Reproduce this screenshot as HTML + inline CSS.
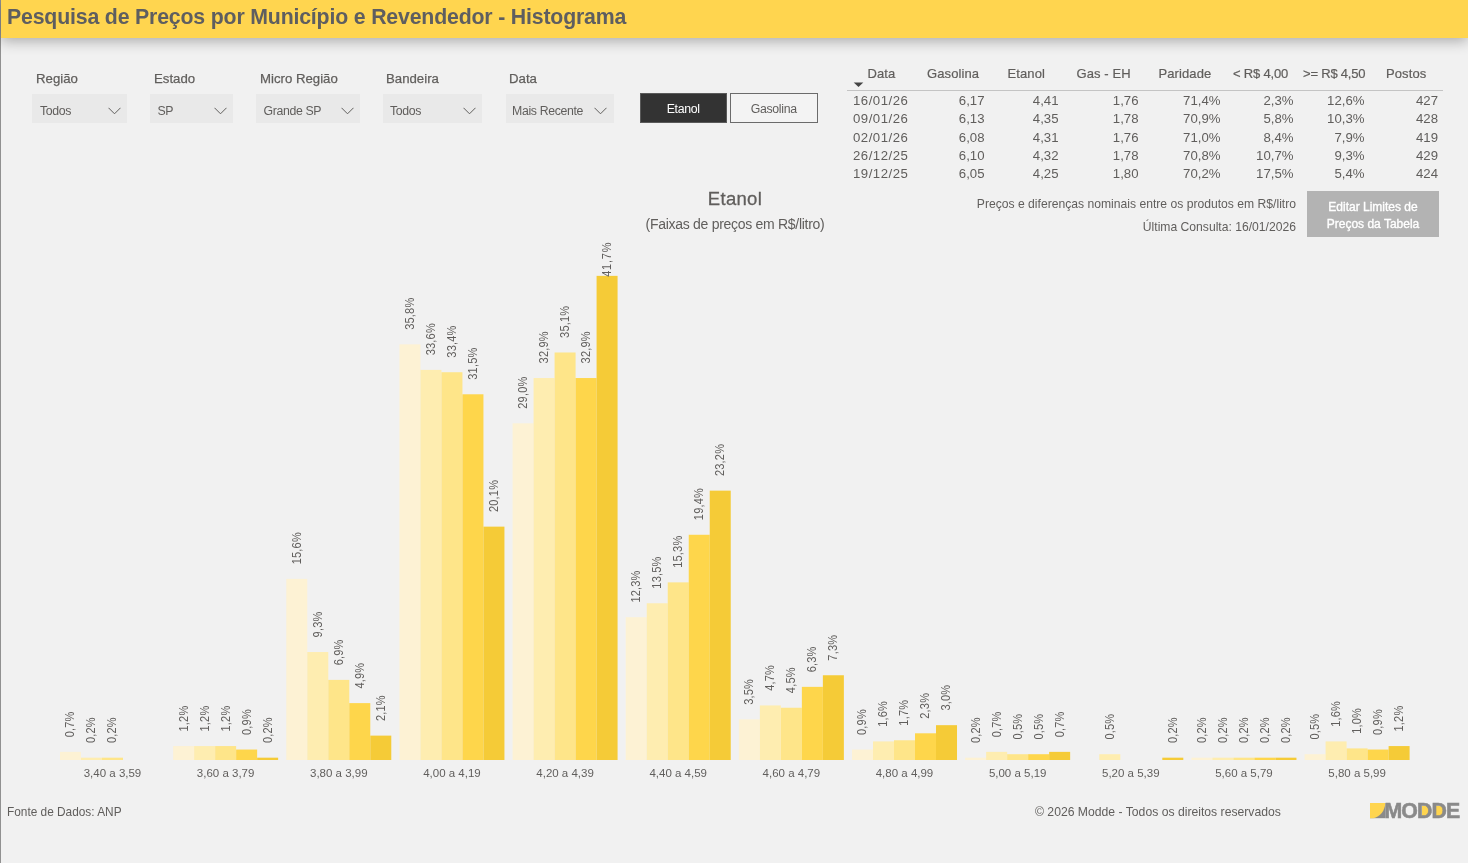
<!DOCTYPE html>
<html lang="pt-BR"><head><meta charset="utf-8"><title>Pesquisa de Preços por Município e Revendedor - Histograma</title>
<style>
html,body{margin:0;padding:0;}
body{width:1468px;height:863px;position:relative;overflow:hidden;background:#F1F1F1;font-family:"Liberation Sans",sans-serif;color:#605E5C;}
.abs{position:absolute;}
#edge{position:absolute;left:0;top:0;width:1px;height:863px;background:#919191;}
#hdr{position:absolute;left:1px;top:0;width:1467px;height:37.5px;background:#FFD54F;box-shadow:0 3px 14px rgba(0,0,0,.30);}
#hdr span{position:absolute;left:6px;top:5px;font-weight:bold;font-size:21.3px;color:#5E5E60;white-space:nowrap;letter-spacing:-0.18px;}
.lbl{position:absolute;top:71.1px;font-size:13.7px;color:#605E5C;white-space:nowrap;transform-origin:left top;transform:scaleX(.965);-webkit-text-stroke:.25px #605E5C;}
.dd{position:absolute;top:94.25px;height:29px;background:#E9E9E9;}
.dd span{position:absolute;left:7.5px;top:10px;font-size:12.3px;letter-spacing:-.35px;color:#605E5C;white-space:nowrap;}
.dd svg{position:absolute;right:6.5px;top:13px;}
.btn{position:absolute;top:93px;height:29.5px;box-sizing:border-box;font-size:12.3px;letter-spacing:-.3px;text-align:center;line-height:30.5px;}
#b1{left:639.5px;width:87.5px;background:#333333;color:#fff;border:1px solid #5a5a5a;}
#b2{left:729.5px;width:88.5px;background:#F3F3F3;color:#605E5C;border:1.5px solid #6b6b6b;}
.th{position:absolute;top:66px;font-size:13px;color:#605E5C;white-space:nowrap;letter-spacing:.1px;-webkit-text-stroke:.2px #605E5C;}
.td{position:absolute;font-size:13.2px;color:#605E5C;white-space:nowrap;line-height:18px;}
.td.r{text-align:right;}
#hline{position:absolute;left:847px;top:90px;width:596px;height:1px;background:#c4c4c4;}
.chart{position:absolute;left:0;top:0;}
.dl{font-size:11px;fill:#605E5C;font-family:"Liberation Sans",sans-serif;letter-spacing:.2px;}
.ax{font-size:11.5px;fill:#605E5C;font-family:"Liberation Sans",sans-serif;}
.note{position:absolute;font-size:12.15px;color:#605E5C;white-space:nowrap;text-align:right;}
#edit{position:absolute;left:1307px;top:191px;width:132px;height:46px;background:#B3B3B3;color:#fff;font-size:12px;-webkit-text-stroke:.35px #fff;text-align:center;line-height:17px;padding-top:8px;box-sizing:border-box;}
#t1{position:absolute;left:535px;width:400px;text-align:center;top:188px;font-size:18.5px;color:#605E5C;letter-spacing:.3px;-webkit-text-stroke:.3px #605E5C;}
#t2{position:absolute;left:535px;width:400px;text-align:center;top:215.5px;font-size:14px;letter-spacing:-.29px;color:#605E5C;}
.ft{position:absolute;top:805px;font-size:11.85px;color:#605E5C;white-space:nowrap;}
#logo{position:absolute;left:1370px;top:803px;width:92px;height:16px;}
.dc{position:absolute;top:2.8px;width:8.5px;height:10.2px;background:#FFD54F;border-radius:0 5px 5px 0;}
#lt{position:absolute;left:14.4px;top:-4.4px;font-weight:bold;font-size:21.3px;line-height:24px;letter-spacing:-.85px;color:#8A8A8A;-webkit-text-stroke:.55px #8A8A8A;white-space:nowrap;}
</style></head><body>
<div id="edge"></div>
<div id="hdr"><span>Pesquisa de Preços por Município e Revendedor - Histograma</span></div>

<div class="lbl" style="left:36px">Região</div>
<div class="lbl" style="left:154px">Estado</div>
<div class="lbl" style="left:260px">Micro Região</div>
<div class="lbl" style="left:386px">Bandeira</div>
<div class="lbl" style="left:509px">Data</div>

<div class="dd" style="left:32px;width:95px"><span style="left:8px">Todos</span><svg width="13" height="8" viewBox="0 0 13 8"><path d="M0.5 0.8 L6.5 6.8 L12.5 0.8" fill="none" stroke="#605E5C" stroke-width="1"/></svg></div>
<div class="dd" style="left:150px;width:83px"><span>SP</span><svg width="13" height="8" viewBox="0 0 13 8"><path d="M0.5 0.8 L6.5 6.8 L12.5 0.8" fill="none" stroke="#605E5C" stroke-width="1"/></svg></div>
<div class="dd" style="left:256px;width:104px"><span>Grande SP</span><svg width="13" height="8" viewBox="0 0 13 8"><path d="M0.5 0.8 L6.5 6.8 L12.5 0.8" fill="none" stroke="#605E5C" stroke-width="1"/></svg></div>
<div class="dd" style="left:382.5px;width:99.5px"><span>Todos</span><svg width="13" height="8" viewBox="0 0 13 8"><path d="M0.5 0.8 L6.5 6.8 L12.5 0.8" fill="none" stroke="#605E5C" stroke-width="1"/></svg></div>
<div class="dd" style="left:505.5px;width:108px"><span style="left:6.5px">Mais Recente</span><svg width="13" height="8" viewBox="0 0 13 8"><path d="M0.5 0.8 L6.5 6.8 L12.5 0.8" fill="none" stroke="#605E5C" stroke-width="1"/></svg></div>

<div class="btn" id="b1">Etanol</div>
<div class="btn" id="b2">Gasolina</div>

<div class="th" style="left:867.5px">Data</div>
<div class="th" style="left:927px">Gasolina</div>
<div class="th" style="left:1007.5px">Etanol</div>
<div class="th" style="left:1076.5px">Gas - EH</div>
<div class="th" style="left:1158.5px">Paridade</div>
<div class="th" style="left:1233px;letter-spacing:-.2px">&lt; R$ 4,00</div>
<div class="th" style="left:1303px;letter-spacing:-.2px">&gt;= R$ 4,50</div>
<div class="th" style="left:1386px">Postos</div>
<svg class="abs" style="left:853.3px;top:82px" width="12" height="7" viewBox="0 0 12 7"><path d="M0.7 0.4 L10.3 0.4 L5.5 5.1 Z" fill="#444"/></svg>
<div id="hline"></div>
<div class="td" style="left:853px;top:92.0px;letter-spacing:.5px">16/01/26</div>
<div class="td r" style="left:904.5px;width:80px;top:92.0px">6,17</div>
<div class="td r" style="left:978.5px;width:80px;top:92.0px">4,41</div>
<div class="td r" style="left:1058.5px;width:80px;top:92.0px">1,76</div>
<div class="td r" style="left:1140.5px;width:80px;top:92.0px">71,4%</div>
<div class="td r" style="left:1213.5px;width:80px;top:92.0px">2,3%</div>
<div class="td r" style="left:1284.5px;width:80px;top:92.0px">12,6%</div>
<div class="td r" style="left:1358.0px;width:80px;top:92.0px">427</div>
<div class="td" style="left:853px;top:110.0px;letter-spacing:.5px">09/01/26</div>
<div class="td r" style="left:904.5px;width:80px;top:110.0px">6,13</div>
<div class="td r" style="left:978.5px;width:80px;top:110.0px">4,35</div>
<div class="td r" style="left:1058.5px;width:80px;top:110.0px">1,78</div>
<div class="td r" style="left:1140.5px;width:80px;top:110.0px">70,9%</div>
<div class="td r" style="left:1213.5px;width:80px;top:110.0px">5,8%</div>
<div class="td r" style="left:1284.5px;width:80px;top:110.0px">10,3%</div>
<div class="td r" style="left:1358.0px;width:80px;top:110.0px">428</div>
<div class="td" style="left:853px;top:129.0px;letter-spacing:.5px">02/01/26</div>
<div class="td r" style="left:904.5px;width:80px;top:129.0px">6,08</div>
<div class="td r" style="left:978.5px;width:80px;top:129.0px">4,31</div>
<div class="td r" style="left:1058.5px;width:80px;top:129.0px">1,76</div>
<div class="td r" style="left:1140.5px;width:80px;top:129.0px">71,0%</div>
<div class="td r" style="left:1213.5px;width:80px;top:129.0px">8,4%</div>
<div class="td r" style="left:1284.5px;width:80px;top:129.0px">7,9%</div>
<div class="td r" style="left:1358.0px;width:80px;top:129.0px">419</div>
<div class="td" style="left:853px;top:147.3px;letter-spacing:.5px">26/12/25</div>
<div class="td r" style="left:904.5px;width:80px;top:147.3px">6,10</div>
<div class="td r" style="left:978.5px;width:80px;top:147.3px">4,32</div>
<div class="td r" style="left:1058.5px;width:80px;top:147.3px">1,78</div>
<div class="td r" style="left:1140.5px;width:80px;top:147.3px">70,8%</div>
<div class="td r" style="left:1213.5px;width:80px;top:147.3px">10,7%</div>
<div class="td r" style="left:1284.5px;width:80px;top:147.3px">9,3%</div>
<div class="td r" style="left:1358.0px;width:80px;top:147.3px">429</div>
<div class="td" style="left:853px;top:165.3px;letter-spacing:.5px">19/12/25</div>
<div class="td r" style="left:904.5px;width:80px;top:165.3px">6,05</div>
<div class="td r" style="left:978.5px;width:80px;top:165.3px">4,25</div>
<div class="td r" style="left:1058.5px;width:80px;top:165.3px">1,80</div>
<div class="td r" style="left:1140.5px;width:80px;top:165.3px">70,2%</div>
<div class="td r" style="left:1213.5px;width:80px;top:165.3px">17,5%</div>
<div class="td r" style="left:1284.5px;width:80px;top:165.3px">5,4%</div>
<div class="td r" style="left:1358.0px;width:80px;top:165.3px">424</div>

<div class="note" style="left:896px;width:400px;top:197px">Preços e diferenças nominais entre os produtos em R$/litro</div>
<div class="note" style="left:896px;width:400px;top:220px">Última Consulta: 16/01/2026</div>
<div id="edit">Editar Limites de<br>Preços da Tabela</div>

<div id="t1">Etanol</div>
<div id="t2">(Faixas de preços em R$/litro)</div>

<svg class="chart" width="1468" height="863" viewBox="0 0 1468 863">
<rect x="60.00" y="751.87" width="21.00" height="8.13" fill="#FDF2D4"/>
<rect x="81.00" y="757.68" width="21.00" height="2.32" fill="#FEEDB0"/>
<rect x="102.00" y="757.68" width="21.00" height="2.32" fill="#FEE589"/>
<text class="dl" transform="translate(74.40,737.27) rotate(-90) scale(1,1.08)">0,7%</text>
<text class="dl" transform="translate(95.40,743.08) rotate(-90) scale(1,1.08)">0,2%</text>
<text class="dl" transform="translate(116.40,743.08) rotate(-90) scale(1,1.08)">0,2%</text>
<text class="ax" x="112.50" y="777" text-anchor="middle">3,40 a 3,59</text>
<rect x="173.14" y="746.07" width="21.00" height="13.93" fill="#FDF2D4"/>
<rect x="194.14" y="746.07" width="21.00" height="13.93" fill="#FEEDB0"/>
<rect x="215.14" y="746.07" width="21.00" height="13.93" fill="#FEE589"/>
<rect x="236.14" y="749.55" width="21.00" height="10.45" fill="#FED64B"/>
<rect x="257.14" y="757.68" width="21.00" height="2.32" fill="#F5CB37"/>
<text class="dl" transform="translate(187.54,731.47) rotate(-90) scale(1,1.08)">1,2%</text>
<text class="dl" transform="translate(208.54,731.47) rotate(-90) scale(1,1.08)">1,2%</text>
<text class="dl" transform="translate(229.54,731.47) rotate(-90) scale(1,1.08)">1,2%</text>
<text class="dl" transform="translate(250.54,734.95) rotate(-90) scale(1,1.08)">0,9%</text>
<text class="dl" transform="translate(271.54,743.08) rotate(-90) scale(1,1.08)">0,2%</text>
<text class="ax" x="225.64" y="777" text-anchor="middle">3,60 a 3,79</text>
<rect x="286.29" y="578.88" width="21.00" height="181.12" fill="#FDF2D4"/>
<rect x="307.29" y="652.03" width="21.00" height="107.97" fill="#FEEDB0"/>
<rect x="328.29" y="679.89" width="21.00" height="80.11" fill="#FEE589"/>
<rect x="349.29" y="703.11" width="21.00" height="56.89" fill="#FED64B"/>
<rect x="370.29" y="735.62" width="21.00" height="24.38" fill="#F5CB37"/>
<text class="dl" transform="translate(300.69,564.28) rotate(-90) scale(1,1.08)">15,6%</text>
<text class="dl" transform="translate(321.69,637.43) rotate(-90) scale(1,1.08)">9,3%</text>
<text class="dl" transform="translate(342.69,665.29) rotate(-90) scale(1,1.08)">6,9%</text>
<text class="dl" transform="translate(363.69,688.51) rotate(-90) scale(1,1.08)">4,9%</text>
<text class="dl" transform="translate(384.69,721.02) rotate(-90) scale(1,1.08)">2,1%</text>
<text class="ax" x="338.79" y="777" text-anchor="middle">3,80 a 3,99</text>
<rect x="399.44" y="344.36" width="21.00" height="415.64" fill="#FDF2D4"/>
<rect x="420.44" y="369.90" width="21.00" height="390.10" fill="#FEEDB0"/>
<rect x="441.44" y="372.23" width="21.00" height="387.77" fill="#FEE589"/>
<rect x="462.44" y="394.29" width="21.00" height="365.71" fill="#FED64B"/>
<rect x="483.44" y="526.64" width="21.00" height="233.36" fill="#F5CB37"/>
<text class="dl" transform="translate(413.83,329.76) rotate(-90) scale(1,1.08)">35,8%</text>
<text class="dl" transform="translate(434.83,355.30) rotate(-90) scale(1,1.08)">33,6%</text>
<text class="dl" transform="translate(455.83,357.63) rotate(-90) scale(1,1.08)">33,4%</text>
<text class="dl" transform="translate(476.83,379.69) rotate(-90) scale(1,1.08)">31,5%</text>
<text class="dl" transform="translate(497.83,512.04) rotate(-90) scale(1,1.08)">20,1%</text>
<text class="ax" x="451.94" y="777" text-anchor="middle">4,00 a 4,19</text>
<rect x="512.58" y="423.31" width="21.00" height="336.69" fill="#FDF2D4"/>
<rect x="533.58" y="378.03" width="21.00" height="381.97" fill="#FEEDB0"/>
<rect x="554.58" y="352.49" width="21.00" height="407.51" fill="#FEE589"/>
<rect x="575.58" y="378.03" width="21.00" height="381.97" fill="#FED64B"/>
<rect x="596.58" y="275.86" width="21.00" height="484.14" fill="#F5CB37"/>
<text class="dl" transform="translate(526.98,408.71) rotate(-90) scale(1,1.08)">29,0%</text>
<text class="dl" transform="translate(547.98,363.43) rotate(-90) scale(1,1.08)">32,9%</text>
<text class="dl" transform="translate(568.98,337.89) rotate(-90) scale(1,1.08)">35,1%</text>
<text class="dl" transform="translate(589.98,363.43) rotate(-90) scale(1,1.08)">32,9%</text>
<text class="dl" style="letter-spacing:.8px" transform="translate(610.98,276.86) rotate(-90) scale(1,1.08)">41,7%</text>
<text class="ax" x="565.08" y="777" text-anchor="middle">4,20 a 4,39</text>
<rect x="625.73" y="617.20" width="21.00" height="142.80" fill="#FDF2D4"/>
<rect x="646.73" y="603.26" width="21.00" height="156.73" fill="#FEEDB0"/>
<rect x="667.73" y="582.37" width="21.00" height="177.63" fill="#FEE589"/>
<rect x="688.73" y="534.77" width="21.00" height="225.23" fill="#FED64B"/>
<rect x="709.73" y="490.65" width="21.00" height="269.35" fill="#F5CB37"/>
<text class="dl" transform="translate(640.12,602.60) rotate(-90) scale(1,1.08)">12,3%</text>
<text class="dl" transform="translate(661.12,588.66) rotate(-90) scale(1,1.08)">13,5%</text>
<text class="dl" transform="translate(682.12,567.77) rotate(-90) scale(1,1.08)">15,3%</text>
<text class="dl" transform="translate(703.12,520.17) rotate(-90) scale(1,1.08)">19,4%</text>
<text class="dl" transform="translate(724.12,476.05) rotate(-90) scale(1,1.08)">23,2%</text>
<text class="ax" x="678.23" y="777" text-anchor="middle">4,40 a 4,59</text>
<rect x="738.87" y="719.37" width="21.00" height="40.63" fill="#FDF2D4"/>
<rect x="759.87" y="705.43" width="21.00" height="54.57" fill="#FEEDB0"/>
<rect x="780.87" y="707.75" width="21.00" height="52.24" fill="#FEE589"/>
<rect x="801.87" y="686.86" width="21.00" height="73.14" fill="#FED64B"/>
<rect x="822.87" y="675.25" width="21.00" height="84.75" fill="#F5CB37"/>
<text class="dl" transform="translate(753.27,704.76) rotate(-90) scale(1,1.08)">3,5%</text>
<text class="dl" transform="translate(774.27,690.83) rotate(-90) scale(1,1.08)">4,7%</text>
<text class="dl" transform="translate(795.27,693.15) rotate(-90) scale(1,1.08)">4,5%</text>
<text class="dl" transform="translate(816.27,672.26) rotate(-90) scale(1,1.08)">6,3%</text>
<text class="dl" transform="translate(837.27,660.65) rotate(-90) scale(1,1.08)">7,3%</text>
<text class="ax" x="791.37" y="777" text-anchor="middle">4,60 a 4,79</text>
<rect x="852.01" y="749.55" width="21.00" height="10.45" fill="#FDF2D4"/>
<rect x="873.01" y="741.42" width="21.00" height="18.58" fill="#FEEDB0"/>
<rect x="894.01" y="740.26" width="21.00" height="19.74" fill="#FEE589"/>
<rect x="915.01" y="733.30" width="21.00" height="26.70" fill="#FED64B"/>
<rect x="936.01" y="725.17" width="21.00" height="34.83" fill="#F5CB37"/>
<text class="dl" transform="translate(866.41,734.95) rotate(-90) scale(1,1.08)">0,9%</text>
<text class="dl" transform="translate(887.41,726.82) rotate(-90) scale(1,1.08)">1,6%</text>
<text class="dl" transform="translate(908.41,725.66) rotate(-90) scale(1,1.08)">1,7%</text>
<text class="dl" transform="translate(929.41,718.70) rotate(-90) scale(1,1.08)">2,3%</text>
<text class="dl" transform="translate(950.41,710.57) rotate(-90) scale(1,1.08)">3,0%</text>
<text class="ax" x="904.51" y="777" text-anchor="middle">4,80 a 4,99</text>
<rect x="965.16" y="757.68" width="21.00" height="2.32" fill="#FDF2D4"/>
<rect x="986.16" y="751.87" width="21.00" height="8.13" fill="#FEEDB0"/>
<rect x="1007.16" y="754.20" width="21.00" height="5.80" fill="#FEE589"/>
<rect x="1028.16" y="754.20" width="21.00" height="5.80" fill="#FED64B"/>
<rect x="1049.16" y="751.87" width="21.00" height="8.13" fill="#F5CB37"/>
<text class="dl" transform="translate(979.56,743.08) rotate(-90) scale(1,1.08)">0,2%</text>
<text class="dl" transform="translate(1000.56,737.27) rotate(-90) scale(1,1.08)">0,7%</text>
<text class="dl" transform="translate(1021.56,739.60) rotate(-90) scale(1,1.08)">0,5%</text>
<text class="dl" transform="translate(1042.56,739.60) rotate(-90) scale(1,1.08)">0,5%</text>
<text class="dl" transform="translate(1063.56,737.27) rotate(-90) scale(1,1.08)">0,7%</text>
<text class="ax" x="1017.66" y="777" text-anchor="middle">5,00 a 5,19</text>
<rect x="1099.30" y="754.20" width="21.00" height="5.80" fill="#FEEDB0"/>
<rect x="1162.30" y="757.68" width="21.00" height="2.32" fill="#F5CB37"/>
<text class="dl" transform="translate(1113.70,739.60) rotate(-90) scale(1,1.08)">0,5%</text>
<text class="dl" transform="translate(1176.70,743.08) rotate(-90) scale(1,1.08)">0,2%</text>
<text class="ax" x="1130.80" y="777" text-anchor="middle">5,20 a 5,39</text>
<rect x="1191.45" y="757.68" width="21.00" height="2.32" fill="#FDF2D4"/>
<rect x="1212.45" y="757.68" width="21.00" height="2.32" fill="#FEEDB0"/>
<rect x="1233.45" y="757.68" width="21.00" height="2.32" fill="#FEE589"/>
<rect x="1254.45" y="757.68" width="21.00" height="2.32" fill="#FED64B"/>
<rect x="1275.45" y="757.68" width="21.00" height="2.32" fill="#F5CB37"/>
<text class="dl" transform="translate(1205.85,743.08) rotate(-90) scale(1,1.08)">0,2%</text>
<text class="dl" transform="translate(1226.85,743.08) rotate(-90) scale(1,1.08)">0,2%</text>
<text class="dl" transform="translate(1247.85,743.08) rotate(-90) scale(1,1.08)">0,2%</text>
<text class="dl" transform="translate(1268.85,743.08) rotate(-90) scale(1,1.08)">0,2%</text>
<text class="dl" transform="translate(1289.85,743.08) rotate(-90) scale(1,1.08)">0,2%</text>
<text class="ax" x="1243.95" y="777" text-anchor="middle">5,60 a 5,79</text>
<rect x="1304.60" y="754.20" width="21.00" height="5.80" fill="#FDF2D4"/>
<rect x="1325.60" y="741.42" width="21.00" height="18.58" fill="#FEEDB0"/>
<rect x="1346.60" y="748.39" width="21.00" height="11.61" fill="#FEE589"/>
<rect x="1367.60" y="749.55" width="21.00" height="10.45" fill="#FED64B"/>
<rect x="1388.60" y="746.07" width="21.00" height="13.93" fill="#F5CB37"/>
<text class="dl" transform="translate(1319.00,739.60) rotate(-90) scale(1,1.08)">0,5%</text>
<text class="dl" transform="translate(1340.00,726.82) rotate(-90) scale(1,1.08)">1,6%</text>
<text class="dl" transform="translate(1361.00,733.79) rotate(-90) scale(1,1.08)">1,0%</text>
<text class="dl" transform="translate(1382.00,734.95) rotate(-90) scale(1,1.08)">0,9%</text>
<text class="dl" transform="translate(1403.00,731.47) rotate(-90) scale(1,1.08)">1,2%</text>
<text class="ax" x="1357.10" y="777" text-anchor="middle">5,80 a 5,99</text>
</svg>

<div class="ft" style="left:7px">Fonte de Dados: ANP</div>
<div class="ft" style="left:1035px;font-size:12.2px">© 2026 Modde - Todos os direitos reservados</div>

<div id="logo">
<svg class="abs" style="left:0;top:0" width="16" height="16" viewBox="0 0 16 16"><rect x="0" y="0" width="15.6" height="15.2" fill="#8A8A8A"/><path d="M0 0 L15.4 0 C14.6 8.2 10.5 13.6 3.2 15.2 L0 15.2 Z" fill="#FFD54F"/></svg>
<div class="dc" style="left:52px"></div><div class="dc" style="left:66px"></div>
<div id="lt">MODDE</div>
</div>
</body></html>
